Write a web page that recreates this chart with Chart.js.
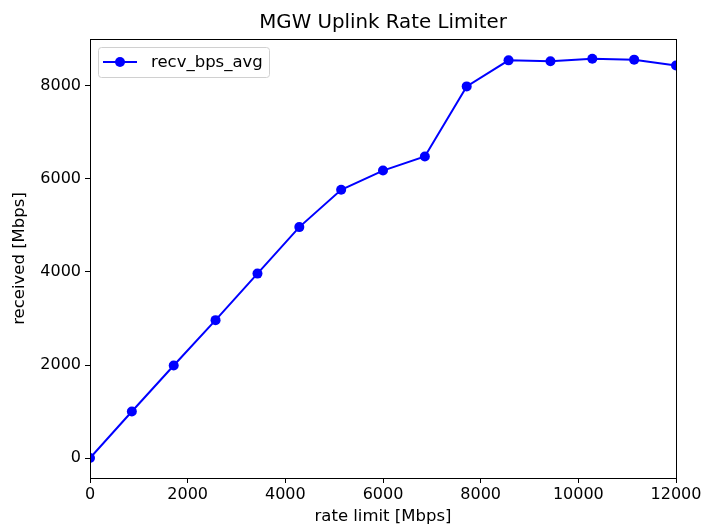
<!DOCTYPE html>
<html>
<head>
  <meta charset="UTF-8">
  <title>MGW Uplink Rate Limiter</title>
  <style>
    html, body { margin: 0; padding: 0; background: #fff; }
    #wrap { width: 701px; height: 527px; }
  </style>
  <script src="https://cdn.jsdelivr.net/npm/chart.js"></script>
</head>
<body>
  <div id="wrap"><canvas id="chart" width="701" height="527"></canvas></div>

  <script>
    // rate limit values (x) and received averages (y)
    const rateLimit = [0, 857, 1714, 2571, 3429, 4286, 5143, 6000, 6857, 7714, 8571, 9429, 10286, 11143, 12000];
    const recvBpsAvg = [0, 1000, 1990, 2965, 3965, 4965, 5767, 6180, 6482, 7990, 8550, 8530, 8585, 8565, 8440];
    const xTicks = [0, 2000, 4000, 6000, 8000, 10000, 12000];
    const yTicks = [0, 2000, 4000, 6000, 8000];

    const FONT = "'DejaVu Sans', sans-serif";
    const TICK_SIZE = 16;
    const LABEL_SIZE = 16.5;

    // title, legend box and axes frame, matplotlib-like
    const decor = {
      id: "decor",
      afterDraw(chart) {
        const ctx = chart.ctx;
        const a = chart.chartArea;
        ctx.save();

        // frame
        ctx.strokeStyle = "#000";
        ctx.lineWidth = 1;
        ctx.strokeRect(Math.round(a.left) + 0.5, Math.round(a.top) + 0.5,
          Math.round(a.right - a.left), Math.round(a.bottom - a.top));

        // title
        ctx.fillStyle = "#000";
        ctx.font = "19.8px " + FONT;
        ctx.textAlign = "center";
        ctx.textBaseline = "alphabetic";
        ctx.fillText("MGW Uplink Rate Limiter", (a.left + a.right) / 2, a.top - 11);

        // legend
        const ds = chart.data.datasets[0];
        const bx = a.left + 8, by = a.top + 8, bw = 171, bh = 30;
        ctx.beginPath();
        ctx.roundRect(bx + 0.5, by + 0.5, bw, bh, 3);
        ctx.fillStyle = "rgba(255,255,255,0.8)";
        ctx.fill();
        ctx.strokeStyle = "#d0d0d0";
        ctx.stroke();

        const ly = by + bh / 2;
        ctx.strokeStyle = ds.borderColor;
        ctx.lineWidth = 2;
        ctx.beginPath();
        ctx.moveTo(bx + 5, ly);
        ctx.lineTo(bx + 39, ly);
        ctx.stroke();
        ctx.fillStyle = ds.pointBackgroundColor;
        ctx.beginPath();
        ctx.arc(bx + 22, ly, ds.pointRadius, 0, Math.PI * 2);
        ctx.fill();

        ctx.fillStyle = "#000";
        ctx.font = LABEL_SIZE + "px " + FONT;
        ctx.textAlign = "left";
        ctx.textBaseline = "middle";
        ctx.fillText(ds.label, bx + 53, ly + 1);

        ctx.restore();
      }
    };

    new Chart(document.getElementById("chart").getContext("2d"), {
      type: "line",
      data: {
        datasets: [{
          label: "recv_bps_avg",
          data: rateLimit.map((x, i) => ({ x: x, y: recvBpsAvg[i] })),
          borderColor: "#0000ff",
          backgroundColor: "#0000ff",
          pointBackgroundColor: "#0000ff",
          pointBorderColor: "#0000ff",
          pointBorderWidth: 0,
          pointRadius: 5,
          borderWidth: 2,
          fill: false,
          tension: 0,
          clip: 0
        }]
      },
      options: {
        responsive: false,
        animation: false,
        layout: { padding: { left: 0, right: 25, top: 39, bottom: 0 } },
        plugins: {
          legend: { display: false },
          title: { display: false },
          tooltip: { enabled: false }
        },
        scales: {
          x: {
            type: "linear",
            min: 0,
            max: 12000,
            afterBuildTicks: s => { s.ticks = xTicks.map(v => ({ value: v })); },
            afterFit: s => { s.height = 49; s.paddingLeft = 0; s.paddingRight = 0; },
            grid: { drawOnChartArea: false, drawTicks: true, tickLength: 5, color: "#000" },
            border: { display: false },
            ticks: { color: "#000", font: { family: FONT, size: TICK_SIZE }, padding: 2, maxRotation: 0, callback: v => String(v) },
            title: { display: true, text: "rate limit [Mbps]", color: "#000", font: { family: FONT, size: LABEL_SIZE }, padding: { top: 0, bottom: 0 } }
          },
          y: {
            type: "linear",
            min: -429,
            max: 9009,
            afterBuildTicks: s => { s.ticks = yTicks.map(v => ({ value: v })); },
            afterFit: s => { s.width = 90; s.paddingTop = 0; s.paddingBottom = 0; },
            grid: { drawOnChartArea: false, drawTicks: true, tickLength: 5, color: "#000" },
            border: { display: false },
            ticks: { color: "#000", font: { family: FONT, size: TICK_SIZE }, padding: 4, callback: v => String(v) },
            title: { display: true, text: "received [Mbps]", color: "#000", font: { family: FONT, size: LABEL_SIZE }, padding: { top: 10, bottom: 0 } }
          }
        }
      },
      plugins: [decor]
    });
  </script>
</body>
</html>
